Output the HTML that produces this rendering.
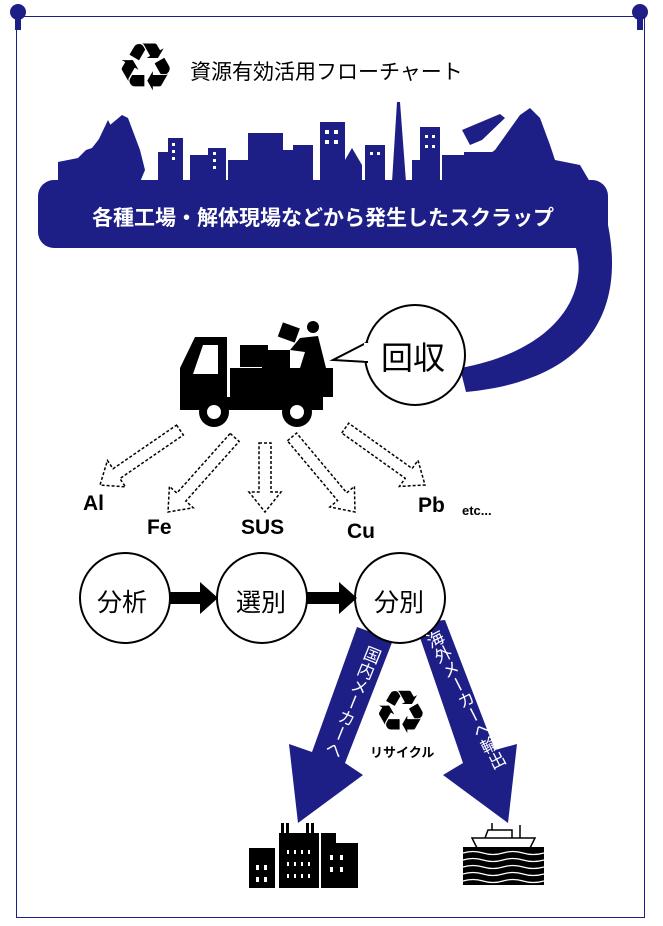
<!DOCTYPE html>
<html><head><meta charset="utf-8"><style>
body{margin:0;background:#fff;width:663px;height:926px;overflow:hidden;position:relative;font-family:"Liberation Sans","Noto Sans CJK JP",sans-serif}
.t{position:absolute;white-space:nowrap}
</style></head><body>
<svg width="663" height="926" style="position:absolute;left:0;top:0">
<rect x="16.5" y="16.5" width="628" height="901" fill="#fff" stroke="#1e1e87" stroke-width="1"/>
<circle cx="18" cy="12" r="8" fill="#1e1e87"/><rect x="15" y="18" width="6" height="12" fill="#1e1e87"/>
<circle cx="640" cy="12" r="8" fill="#1e1e87"/><rect x="637" y="18" width="6" height="12" fill="#1e1e87"/>
<g fill="#1e1e87">
<path d="M58,182 L58,162 L78,158 L86,150 L92,148 L110,125 L122,115 L128,118 L140,150 L145,170 L140,182 Z"/>
<path d="M108,120 L88,162 L94,162 L112,128 Z"/>
<rect x="158" y="152" width="20" height="30"/><rect x="168" y="138" width="15" height="44"/>
<rect x="190" y="155" width="30" height="27"/><rect x="208" y="148" width="18" height="34"/>
<rect x="228" y="160" width="20" height="22"/><rect x="248" y="133" width="35" height="49"/>
<rect x="283" y="150" width="12" height="32"/><rect x="293" y="145" width="20" height="37"/>
<rect x="320" y="122" width="25" height="60"/><path d="M345,182 L345,160 L352,148 L362,165 L362,182 Z"/>
<rect x="365" y="145" width="20" height="37"/><path d="M392,182 L397,102 L400,102 L406,182 Z"/>
<rect x="412" y="160" width="10" height="22"/><rect x="420" y="127" width="20" height="55"/>
<rect x="442" y="155" width="22" height="27"/><rect x="464" y="152" width="28" height="30"/>
<path d="M485,182 L488,155 L495,150 L520,115 L530,108 L540,118 L550,145 L555,160 L580,165 L590,182 Z"/>
<path d="M462,130 L470,145 L482,140 L505,118 L500,114 Z"/>
<rect x="38" y="180" width="570" height="68" rx="16"/>
<path d="M575,245 C590,290 560,350 460,368 L466,392 C590,380 625,310 608,225 Z"/>
</g>
<g fill="#fff">
<rect x="172" y="143" width="3" height="3"/><rect x="172" y="150" width="3" height="3"/><rect x="172" y="157" width="3" height="3"/>
<rect x="213" y="152" width="3" height="3"/><rect x="213" y="159" width="3" height="3"/><rect x="213" y="166" width="3" height="3"/>
<rect x="325" y="130" width="4" height="4"/><rect x="334" y="130" width="4" height="4"/><rect x="325" y="140" width="4" height="4"/><rect x="334" y="140" width="4" height="4"/>
<rect x="425" y="135" width="3" height="3"/><rect x="432" y="135" width="3" height="3"/><rect x="425" y="145" width="3" height="3"/><rect x="432" y="145" width="3" height="3"/>
<rect x="370" y="152" width="3" height="3"/><rect x="377" y="152" width="3" height="3"/>
</g>
<g fill="#000">
<path d="M180,410 L180,368 L195,337 L227,337 L227,410 Z"/>
<rect x="230" y="368" width="103" height="29"/>
<rect x="227" y="397" width="96" height="13"/>
<rect x="240" y="345" width="28" height="22"/><rect x="262" y="350" width="28" height="18"/>
<rect x="280" y="325" width="18" height="15" transform="rotate(20 289 332)"/>
<circle cx="313" cy="327" r="6"/>
<path d="M300,338 L318,336 L322,352 L326,368 L300,368 L305,352 L290,350 Z"/>
<circle cx="214" cy="412" r="15"/><circle cx="297" cy="412" r="15"/>
</g>
<path d="M193,374 L203,345 L218,345 L218,374 Z" fill="#fff"/>
<circle cx="214" cy="412" r="7" fill="#fff"/><circle cx="297" cy="412" r="7" fill="#fff"/>
<circle cx="415" cy="355" r="50" fill="#fff" stroke="#000" stroke-width="2"/>
<path d="M368,342 L333,360 L368,362" fill="#fff" stroke="#000" stroke-width="2"/>
<rect x="364" y="343" width="6" height="18" fill="#fff"/>
<g fill="#fff" stroke="#000" stroke-width="1.5" stroke-dasharray="3,2">
<path transform="translate(100,485) rotate(55.5)" d="M-6,-97 L6,-97 L6,-20 L16,-20 L0,0 L-16,-20 L-6,-20 Z"/>
<path transform="translate(168,512) rotate(41.8)" d="M-6,-100 L6,-100 L6,-20 L16,-20 L0,0 L-16,-20 L-6,-20 Z"/>
<path transform="translate(265,512)" d="M-6,-69 L6,-69 L6,-20 L16,-20 L0,0 L-16,-20 L-6,-20 Z"/>
<path transform="translate(355,512) rotate(-40)" d="M-6,-98 L6,-98 L6,-20 L16,-20 L0,0 L-16,-20 L-6,-20 Z"/>
<path transform="translate(425,485) rotate(-54.5)" d="M-6,-98 L6,-98 L6,-20 L16,-20 L0,0 L-16,-20 L-6,-20 Z"/>
</g>
<g fill="#1e1e87">
<polygon points="357,627 393,640 345,763 363,775 298,823 289,744 312,752"/>
<polygon points="415,623 445,620 495,750 517,744 508,823 443,775 463,763"/>
</g>
<g fill="#fff" stroke="#000" stroke-width="2">
<circle cx="125" cy="598" r="45"/><circle cx="262" cy="598" r="45"/><circle cx="400" cy="598" r="45"/>
</g>
<g fill="#000">
<rect x="170" y="592" width="32" height="12"/><polygon points="200,582 218,598 200,614"/>
<rect x="307" y="592" width="34" height="12"/><polygon points="339,582 357,598 339,614"/>
</g>
<g fill="#000">
<rect x="249" y="848" width="26" height="40"/><rect x="279" y="833" width="40" height="55"/>
<rect x="281" y="823" width="3" height="12"/><rect x="286" y="823" width="3" height="12"/>
<rect x="306" y="823" width="3" height="12"/><rect x="311" y="823" width="3" height="12"/>
<rect x="321" y="833" width="15" height="55"/><rect x="321" y="843" width="37" height="45"/>
</g>
<g fill="#fff">
<rect x="256" y="865" width="3" height="5"/><rect x="264" y="865" width="3" height="5"/><rect x="256" y="877" width="3" height="5"/><rect x="264" y="877" width="3" height="5"/>
<rect x="287" y="850" width="2" height="4"/><rect x="294" y="850" width="2" height="4"/><rect x="301" y="850" width="2" height="4"/><rect x="308" y="850" width="2" height="4"/>
<rect x="287" y="862" width="2" height="4"/><rect x="294" y="862" width="2" height="4"/><rect x="301" y="862" width="2" height="4"/><rect x="308" y="862" width="2" height="4"/>
<rect x="287" y="874" width="2" height="4"/><rect x="294" y="874" width="2" height="4"/><rect x="301" y="874" width="2" height="4"/><rect x="308" y="874" width="2" height="4"/>
<rect x="330" y="855" width="3" height="5"/><rect x="340" y="855" width="3" height="5"/><rect x="330" y="867" width="3" height="5"/><rect x="340" y="867" width="3" height="5"/>
</g>
<g stroke="#000" fill="none">
<path d="M472,838 L535,838 L530,848 L477,848 Z" fill="#fff" stroke-width="1.5"/>
<path d="M485,838 L488,830 L512,830 L512,838" stroke-width="1.5"/>
<line x1="492" y1="823" x2="492" y2="830" stroke-width="1.5"/><line x1="520" y1="825" x2="520" y2="838" stroke-width="1.5"/>
</g>
<rect x="463" y="847" width="81" height="38" fill="#000"/>
<g stroke="#fff" stroke-width="1.2" fill="none">
<path d="M463,853 q10,-3 20,0 t20,0 t20,0 t21,0"/>
<path d="M463,860 q10,-3 20,0 t20,0 t20,0 t21,0"/>
<path d="M463,867 q10,-3 20,0 t20,0 t20,0 t21,0"/>
<path d="M463,874 q10,-3 20,0 t20,0 t20,0 t21,0"/>
<path d="M463,881 q10,-3 20,0 t20,0 t20,0 t21,0"/>
</g>
</svg>
<div class="t" style="left:116px;top:30px;font-size:66px;line-height:76px;font-family:'DejaVu Sans',sans-serif">♻</div>
<div class="t" style="left:190px;top:56px;font-size:21px">資源有効活用フローチャート</div>
<div class="t" style="left:38px;width:570px;text-align:center;top:202px;font-size:21px;font-weight:bold;color:#fff">各種工場・解体現場などから発生したスクラップ</div>
<div class="t" style="left:381px;top:333px;font-size:32px">回収</div>
<div class="t" style="left:83px;top:492px;font-size:21px;font-weight:bold">Al</div>
<div class="t" style="left:147px;top:516px;font-size:21px;font-weight:bold">Fe</div>
<div class="t" style="left:241px;top:516px;font-size:21px;font-weight:bold">SUS</div>
<div class="t" style="left:347px;top:520px;font-size:21px;font-weight:bold">Cu</div>
<div class="t" style="left:418px;top:494px;font-size:21px;font-weight:bold">Pb</div>
<div class="t" style="left:462px;top:503px;font-size:13px;font-weight:bold">etc...</div>
<div class="t" style="left:97px;top:583px;font-size:25px">分析</div>
<div class="t" style="left:236px;top:583px;font-size:25px">選別</div>
<div class="t" style="left:374px;top:583px;font-size:25px">分別</div>
<div class="t" style="left:374px;top:680px;font-size:60px;line-height:66px;font-family:'DejaVu Sans',sans-serif">♻</div>
<div class="t" style="left:370px;top:742px;font-size:13px;font-weight:bold">リサイクル</div>
<div class="t" style="left:366px;top:643px;font-size:17px;line-height:17px;color:#fff;writing-mode:vertical-rl;transform:rotate(22deg);transform-origin:0 0">国内メーカーへ</div>
<div class="t" style="left:422px;top:636px;font-size:17px;line-height:17px;color:#fff;writing-mode:vertical-rl;transform:rotate(-27deg);transform-origin:0 0">海外メーカーへ輸出</div>
</body></html>
